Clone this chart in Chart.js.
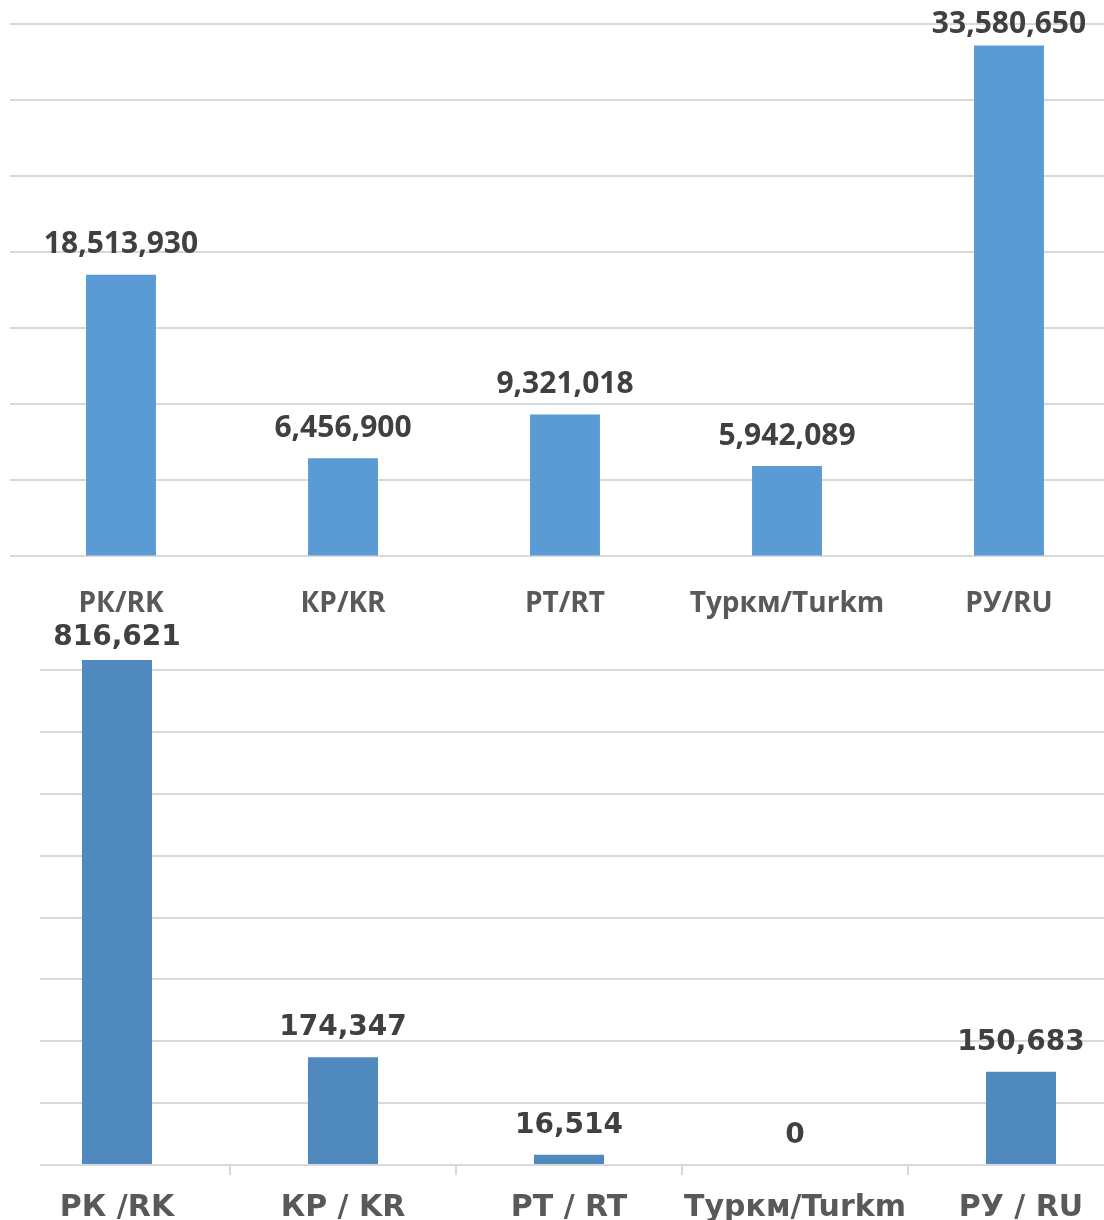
<!DOCTYPE html>
<html lang="en">
<head>
    <meta charset="UTF-8">
    <title>Bar charts</title>
    <script src="https://cdn.jsdelivr.net/npm/chart.js"></script>
    <style>
        html, body { margin: 0; padding: 0; overflow: hidden; background: #fff; }
        .box { position: absolute; left: 0; }
        #top-box { top: 0; width: 1130px; height: 644px; }
        #bottom-box { top: 620px; width: 1140px; height: 621px; }
    </style>
</head>
<body>
    <div class="box" id="top-box"><canvas id="top-chart"></canvas></div>
    <div class="box" id="bottom-box"><canvas id="bottom-chart"></canvas></div>

    <script>
        // top chart data
        const topCategories = ['РК/RK', 'КР/KR', 'РТ/RT', 'Туркм/Turkm', 'РУ/RU'];
        const topValues = [18513930, 6456900, 9321018, 5942089, 33580650];

        // bottom chart data
        const bottomCategories = ['РК /RK', 'КР / KR', 'РТ / RT', 'Туркм/Turkm', 'РУ / RU'];
        const bottomValues = [816621, 174347, 16514, 0, 150683];
        const bottomGridValues = [0, 100000, 200000, 300000, 400000, 500000, 600000, 700000, 800000];

        const gridColor = '#d9d9d9';

        // draws value labels above bars, kept inside the plot area
        function valueLabels(font, gap, minTop) {
            return {
                id: 'valueLabels',
                afterDatasetsDraw(chart) {
                    const ctx = chart.ctx;
                    const meta = chart.getDatasetMeta(0);
                    const values = chart.data.datasets[0].data;
                    ctx.save();
                    ctx.font = font;
                    ctx.fillStyle = '#404040';
                    ctx.textAlign = 'center';
                    ctx.textBaseline = 'middle';
                    meta.data.forEach(function(bar, i) {
                        let y = bar.y - gap;
                        if (y < chart.chartArea.top + minTop) y = chart.chartArea.top + minTop;
                        ctx.fillText(values[i].toLocaleString('en-US'), bar.x, y);
                    });
                    ctx.restore();
                }
            };
        }

        // the lower chart's grid starts a bit right of its plot edge
        const gridStart = {
            id: 'gridStart',
            beforeDatasetsDraw(chart) {
                const a = chart.chartArea;
                const ctx = chart.ctx;
                ctx.save();
                ctx.fillStyle = '#fff';
                ctx.fillRect(0, a.top, 40, a.bottom - a.top + 14);
                ctx.restore();
            }
        };

        new Chart(document.getElementById('top-chart'), {
            type: 'bar',
            data: {
                labels: topCategories,
                datasets: [{
                    data: topValues,
                    backgroundColor: '#5b9bd5',
                    barPercentage: 0.315,
                    categoryPercentage: 1
                }]
            },
            options: {
                responsive: true,
                maintainAspectRatio: false,
                animation: false,
                layout: { padding: { top: 24, left: 10, right: 10, bottom: 0 } },
                plugins: { legend: { display: false }, tooltip: { enabled: false } },
                scales: {
                    x: {
                        grid: { display: false },
                        border: { display: false },
                        ticks: {
                            color: '#595959',
                            padding: 23,
                            maxRotation: 0,
                            autoSkip: false,
                            font: { family: 'Open Sans', weight: 'bold', size: 28 }
                        }
                    },
                    y: {
                        min: 0,
                        max: 35000000,
                        ticks: { display: false, stepSize: 5000000 },
                        border: { display: false },
                        grid: { color: gridColor, lineWidth: 2, drawTicks: false }
                    }
                }
            },
            plugins: [valueLabels('bold 30px "Open Sans"', 30, 0)]
        });

        new Chart(document.getElementById('bottom-chart'), {
            type: 'bar',
            data: {
                labels: bottomCategories,
                datasets: [{
                    data: bottomValues,
                    backgroundColor: '#4f89bd',
                    barPercentage: 0.31,
                    categoryPercentage: 1
                }]
            },
            options: {
                responsive: true,
                maintainAspectRatio: false,
                animation: false,
                layout: { padding: { top: 7, left: 4, right: 6, bottom: 0 } },
                plugins: { legend: { display: false }, tooltip: { enabled: false } },
                scales: {
                    x: {
                        grid: {
                            offset: true,
                            drawOnChartArea: false,
                            tickLength: 10,
                            color: gridColor,
                            lineWidth: 2
                        },
                        border: { display: false },
                        ticks: {
                            color: '#595959',
                            padding: 15,
                            maxRotation: 0,
                            autoSkip: false,
                            font: { family: 'DejaVu Sans', weight: 'bold', size: 30 }
                        }
                    },
                    y: {
                        min: 0,
                        max: 870000,
                        ticks: { display: false },
                        // the top of the range is not a gridline, so set the gridline values directly
                        afterBuildTicks: function(scale) {
                            scale.ticks = bottomGridValues.map(v => ({ value: v }));
                        },
                        border: { display: false },
                        grid: { color: gridColor, lineWidth: 2, drawTicks: false }
                    }
                }
            },
            plugins: [gridStart, valueLabels('bold 28px "DejaVu Sans"', 29, 11)]
        });
    </script>
</body>
</html>
